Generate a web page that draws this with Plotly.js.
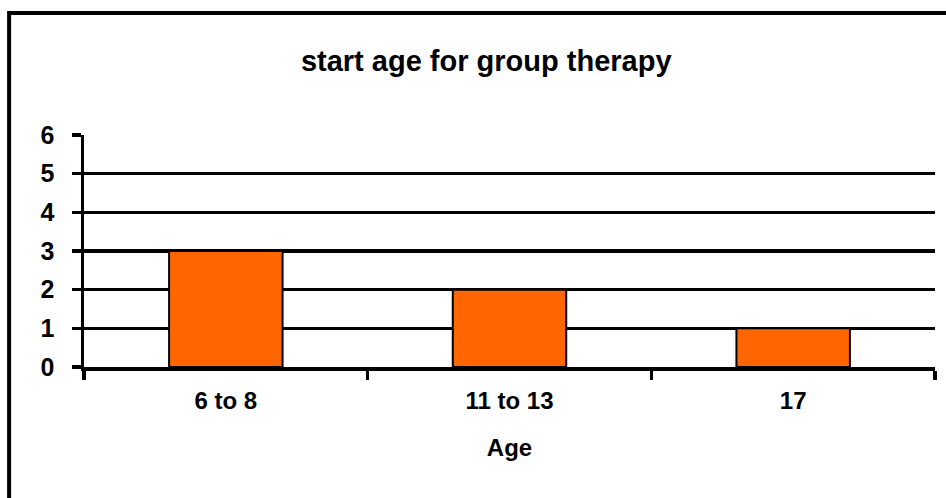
<!DOCTYPE html>
<html>
<head>
<meta charset="utf-8">
<script src="https://cdn.plot.ly/plotly-3.0.1.min.js"></script>
<style>
  body { margin: 0; background: #fff; }
  #chart { width: 946px; height: 498px; }
</style>
</head>
<body>
<div id="chart"></div>
<script>
// Chart data
const ageGroups = ['6 to 8', '11 to 13', '17'];
const counts = [3, 2, 1];
const yTicks = [0, 1, 2, 3, 4, 5, 6];

const boldFont = 'Liberation Sans, Arial, sans-serif';

let trace = {
    type: 'bar',
    x: ageGroups,
    y: counts,
    marker: {
        color: '#ff6600',
        line: { color: '#000000', width: 2 }
    },
    hoverinfo: 'skip'
};

let layout = {
    width: 946,
    height: 498,
    margin: { l: 84, r: 11, t: 135, b: 131 },
    paper_bgcolor: '#ffffff',
    plot_bgcolor: '#ffffff',
    showlegend: false,
    bargap: 0.6,
    title: {
        text: 'start age for group therapy',
        font: { family: boldFont, size: 29, color: '#000', weight: 'bold' },
        xref: 'container',
        x: 0.514,
        xanchor: 'center',
        yref: 'container',
        y: 0.878,
        yanchor: 'middle'
    },
    xaxis: {
        type: 'category',
        showline: true,
        linecolor: '#000',
        linewidth: 3.5,
        showgrid: false,
        zeroline: false,
        ticks: 'outside',
        tickson: 'boundaries',
        ticklen: 9,
        tickwidth: 3.5,
        tickcolor: '#000',
        ticklabelstandoff: 10,
        tickfont: { family: boldFont, size: 24, color: '#000', weight: 'bold' },
        title: {
            text: 'Age',
            font: { family: boldFont, size: 24, color: '#000', weight: 'bold' },
            standoff: 27
        }
    },
    yaxis: {
        range: [0, 6],
        tickvals: yTicks,
        ticktext: yTicks.map(String),
        showline: true,
        linecolor: '#000',
        linewidth: 3.5,
        showgrid: true,
        gridcolor: '#000',
        gridwidth: 3.5,
        zeroline: false,
        ticks: 'outside',
        ticklen: 9,
        tickwidth: 3.5,
        tickcolor: '#000',
        ticklabelstandoff: 12,
        tickfont: { family: boldFont, size: 25, color: '#000', weight: 'bold' }
    },
    shapes: [{
        // outer chart frame (runs off the right and bottom of the picture)
        type: 'rect',
        xref: 'paper', yref: 'paper',
        x0: -0.088, x1: 1.05,
        y0: -0.65, y1: 1.526,
        line: { color: '#000', width: 4 },
        fillcolor: 'rgba(0,0,0,0)',
        layer: 'above'
    }]
};

Plotly.newPlot('chart', [trace], layout, { displayModeBar: false, staticPlot: true });
</script>
</body>
</html>
